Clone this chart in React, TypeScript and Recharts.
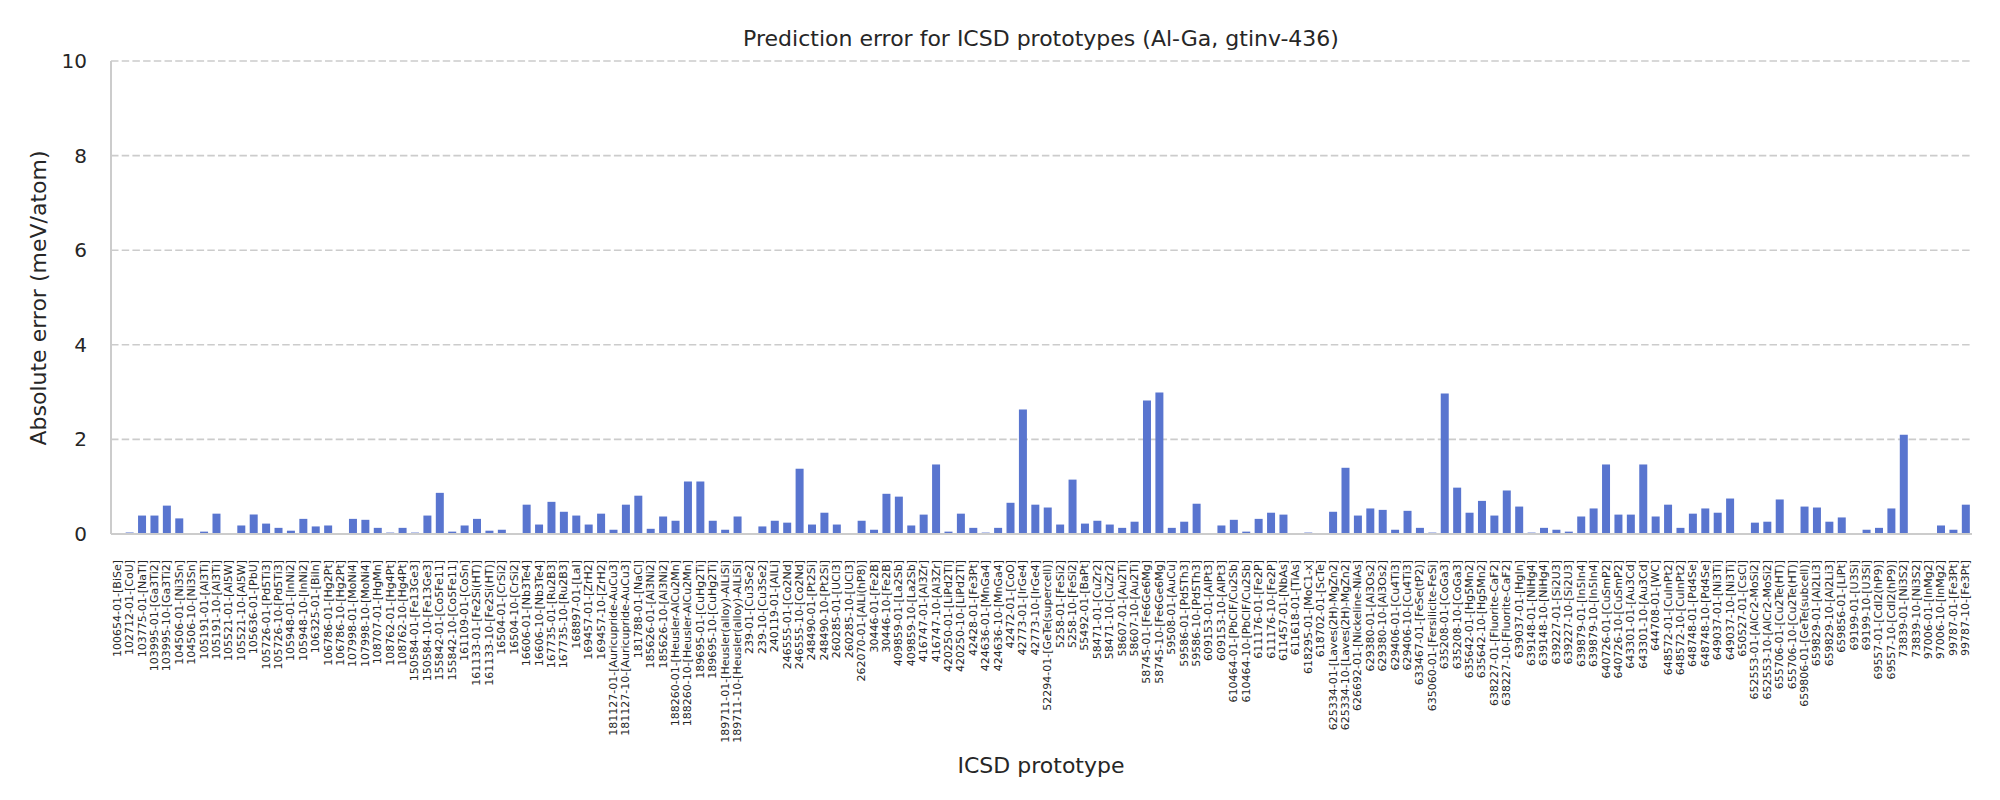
import React from 'react';
import { BarChart, Bar, XAxis, YAxis, CartesianGrid } from 'recharts';

const prototypes: string[] = [
  '100654-01-[BiSe]', '102712-01-[CoU]', '103775-01-[NaTl]', '103995-01-[Ga3Ti2]', '103995-10-[Ga3Ti2]',
  '104506-01-[Ni3Sn]', '104506-10-[Ni3Sn]', '105191-01-[Al3Ti]', '105191-10-[Al3Ti]', '105521-01-[Al5W]',
  '105521-10-[Al5W]', '105636-01-[PbU]', '105726-01-[Pd5Ti3]', '105726-10-[Pd5Ti3]', '105948-01-[InNi2]',
  '105948-10-[InNi2]', '106325-01-[BiIn]', '106786-01-[Hg2Pt]', '106786-10-[Hg2Pt]', '107998-01-[MoNi4]',
  '107998-10-[MoNi4]', '108707-01-[HgMn]', '108762-01-[Hg4Pt]', '108762-10-[Hg4Pt]', '150584-01-[Fe13Ge3]',
  '150584-10-[Fe13Ge3]', '155842-01-[Co5Fe11]', '155842-10-[Co5Fe11]', '161109-01-[CoSn]', '161133-01-[Fe2Si(HT)]',
  '161133-10-[Fe2Si(HT)]', '16504-01-[CrSi2]', '16504-10-[CrSi2]', '16606-01-[Nb3Te4]', '16606-10-[Nb3Te4]',
  '167735-01-[Ru2B3]', '167735-10-[Ru2B3]', '168897-01-[LaI]', '169457-01-[ZrH2]', '169457-10-[ZrH2]',
  '181127-01-[Auricupride-AuCu3]', '181127-10-[Auricupride-AuCu3]', '181788-01-[NaCl]', '185626-01-[Al3Ni2]', '185626-10-[Al3Ni2]',
  '188260-01-[Heusler-AlCu2Mn]', '188260-10-[Heusler-AlCu2Mn]', '189695-01-[CuHg2Ti]', '189695-10-[CuHg2Ti]', '189711-01-[Heusler(alloy)-AlLiSi]',
  '189711-10-[Heusler(alloy)-AlLiSi]', '239-01-[Cu3Se2]', '239-10-[Cu3Se2]', '240119-01-[AlLi]', '246555-01-[Co2Nd]',
  '246555-10-[Co2Nd]', '248490-01-[Pt2Si]', '248490-10-[Pt2Si]', '260285-01-[UCl3]', '260285-10-[UCl3]',
  '262070-01-[AlLi(hP8)]', '30446-01-[Fe2B]', '30446-10-[Fe2B]', '409859-01-[La2Sb]', '409859-10-[La2Sb]',
  '416747-01-[Al3Zr]', '416747-10-[Al3Zr]', '420250-01-[LiPd2Tl]', '420250-10-[LiPd2Tl]', '42428-01-[Fe3Pt]',
  '424636-01-[MnGa4]', '424636-10-[MnGa4]', '42472-01-[CoO]', '42773-01-[IrGe4]', '42773-10-[IrGe4]',
  '52294-01-[GeTe(supercell)]', '5258-01-[FeSi2]', '5258-10-[FeSi2]', '55492-01-[BaPt]', '58471-01-[CuZr2]',
  '58471-10-[CuZr2]', '58607-01-[Au2Ti]', '58607-10-[Au2Ti]', '58745-01-[Fe6Ge6Mg]', '58745-10-[Fe6Ge6Mg]',
  '59508-01-[AuCu]', '59586-01-[Pd5Th3]', '59586-10-[Pd5Th3]', '609153-01-[AlPt3]', '609153-10-[AlPt3]',
  '610464-01-[PbClF/Cu2Sb]', '610464-10-[PbClF/Cu2Sb]', '611176-01-[Fe2P]', '611176-10-[Fe2P]', '611457-01-[NbAs]',
  '611618-01-[TiAs]', '618295-01-[MoC1-x]', '618702-01-[ScTe]', '625334-01-[Laves(2H)-MgZn2]', '625334-10-[Laves(2H)-MgZn2]',
  '626692-01-[Nickeline-NiAs]', '629380-01-[Al3Os2]', '629380-10-[Al3Os2]', '629406-01-[Cu4Ti3]', '629406-10-[Cu4Ti3]',
  '633467-01-[FeSe(tP2)]', '635060-01-[Fersilicite-FeSi]', '635208-01-[CoGa3]', '635208-10-[CoGa3]', '635642-01-[Hg5Mn2]',
  '635642-10-[Hg5Mn2]', '638227-01-[Fluorite-CaF2]', '638227-10-[Fluorite-CaF2]', '639037-01-[HgIn]', '639148-01-[NiHg4]',
  '639148-10-[NiHg4]', '639227-01-[Si2U3]', '639227-10-[Si2U3]', '639879-01-[In5In4]', '639879-10-[In5In4]',
  '640726-01-[CuSmP2]', '640726-10-[CuSmP2]', '643301-01-[Au3Cd]', '643301-10-[Au3Cd]', '644708-01-[WC]',
  '648572-01-[CuInPt2]', '648572-10-[CuInPt2]', '648748-01-[Pd4Se]', '648748-10-[Pd4Se]', '649037-01-[Ni3Ti]',
  '649037-10-[Ni3Ti]', '650527-01-[CsCl]', '652553-01-[AlCr2-MoSi2]', '652553-10-[AlCr2-MoSi2]', '655706-01-[Cu2Te(HT)]',
  '655706-10-[Cu2Te(HT)]', '659806-01-[GeTe(subcell)]', '659829-01-[Al2Li3]', '659829-10-[Al2Li3]', '659856-01-[LiPt]',
  '69199-01-[U3Si]', '69199-10-[U3Si]', '69557-01-[CdI2(hP9)]', '69557-10-[CdI2(hP9)]', '73839-01-[Ni3S2]',
  '73839-10-[Ni3S2]', '97006-01-[InMg2]', '97006-10-[InMg2]', '99787-01-[Fe3Pt]', '99787-10-[Fe3Pt]',
];

const errors: number[] = [
  0, 0.03, 0.39, 0.39, 0.60, 0.33, 0, 0.05, 0.43, 0,
  0.18, 0.41, 0.22, 0.13, 0.07, 0.32, 0.16, 0.18, 0, 0.32,
  0.30, 0.13, 0.03, 0.13, 0.03, 0.39, 0.87, 0.05, 0.18, 0.32,
  0.07, 0.09, 0, 0.62, 0.20, 0.68, 0.47, 0.39, 0.20, 0.43,
  0.09, 0.62, 0.81, 0.11, 0.37, 0.28, 1.11, 1.11, 0.28, 0.09,
  0.37, 0, 0.16, 0.28, 0.24, 1.38, 0.20, 0.45, 0.20, 0,
  0.28, 0.09, 0.85, 0.79, 0.18, 0.41, 1.47, 0.05, 0.43, 0.13,
  0.03, 0.13, 0.66, 2.63, 0.62, 0.56, 0.20, 1.15, 0.22, 0.28,
  0.20, 0.13, 0.26, 2.82, 2.99, 0.13, 0.26, 0.64, 0, 0.18,
  0.30, 0.05, 0.32, 0.45, 0.41, 0, 0.03, 0, 0.47, 1.40,
  0.39, 0.54, 0.51, 0.09, 0.49, 0.13, 0.03, 2.97, 0.98, 0.45,
  0.70, 0.39, 0.92, 0.58, 0.03, 0.13, 0.09, 0.05, 0.37, 0.54,
  1.47, 0.41, 0.41, 1.47, 0.37, 0.62, 0.13, 0.43, 0.54, 0.45,
  0.75, 0, 0.24, 0.26, 0.73, 0, 0.58, 0.56, 0.26, 0.35,
  0, 0.09, 0.13, 0.54, 2.10, 0, 0, 0.18, 0.09, 0.62,
];

const yTicks: number[] = [0, 2, 4, 6, 8, 10];

const data = prototypes.map((name, i) => ({ name, error: errors[i] }));

const FONT = '"DejaVu Sans", sans-serif';
const TEXT = '#262626';
const SPINE = '#cccccc';

const XTick = (props: any) => {
  const { x, y, payload } = props;
  return (
    <text
      x={x}
      y={y}
      transform={`rotate(-90, ${x}, ${y})`}
      textAnchor="end"
      dominantBaseline="central"
      fontSize={11}
      fontFamily={FONT}
      fill={TEXT}
    >
      {payload.value}
    </text>
  );
};

const YTick = (props: any) => {
  const { x, y, payload } = props;
  return (
    <text
      x={x}
      y={y}
      textAnchor="end"
      dominantBaseline="central"
      fontSize={20}
      fontFamily={FONT}
      fill={TEXT}
    >
      {payload.value}
    </text>
  );
};

export default function App() {
  return (
    <div style={{ position: 'absolute', left: 0, top: 0, width: 2000, height: 800, background: '#fff', fontFamily: FONT }}>
      <BarChart
        width={2000}
        height={800}
        data={data}
        margin={{ top: 61, right: 28, bottom: 0, left: 0 }}
        barCategoryGap="18%"
      >
        <CartesianGrid
          vertical={false}
          stroke={SPINE}
          strokeWidth={1.6}
          strokeDasharray="7.5 3.2"
        />
        <XAxis
          dataKey="name"
          interval={0}
          height={266}
          tickLine={false}
          tickSize={0}
          tickMargin={26}
          tick={<XTick />}
          axisLine={{ stroke: SPINE, strokeWidth: 2 }}
        />
        <XAxis
          xAxisId="top"
          dataKey="name"
          orientation="top"
          height={0}
          tick={false}
          tickLine={false}
          axisLine={{ stroke: SPINE, strokeWidth: 2 }}
        />
        <YAxis
          domain={[0, 10]}
          ticks={yTicks}
          width={111}
          tickLine={false}
          tickSize={0}
          tickMargin={24}
          tick={<YTick />}
          axisLine={{ stroke: SPINE, strokeWidth: 2 }}
          interval={0}
        />
        <YAxis
          yAxisId="right"
          orientation="right"
          domain={[0, 10]}
          ticks={yTicks}
          width={0}
          tick={false}
          tickLine={false}
          axisLine={{ stroke: SPINE, strokeWidth: 2 }}
        />
        <Bar dataKey="error" fill="#5975cf" isAnimationActive={false} />
      </BarChart>
      <div
        style={{
          position: 'absolute', left: 1041, top: 38, transform: 'translate(-50%, -50%)',
          fontSize: 22, color: TEXT, whiteSpace: 'nowrap', fontFamily: FONT,
        }}
      >
        Prediction error for ICSD prototypes (Al-Ga, gtinv-436)
      </div>
      <div
        style={{
          position: 'absolute', left: 1041, top: 765, transform: 'translate(-50%, -50%)',
          fontSize: 22, color: TEXT, whiteSpace: 'nowrap', fontFamily: FONT,
        }}
      >
        ICSD prototype
      </div>
      <div
        style={{
          position: 'absolute', left: 38, top: 298, transform: 'translate(-50%, -50%) rotate(-90deg)',
          fontSize: 22, color: TEXT, whiteSpace: 'nowrap', fontFamily: FONT,
        }}
      >
        Absolute error (meV/atom)
      </div>
    </div>
  );
}
